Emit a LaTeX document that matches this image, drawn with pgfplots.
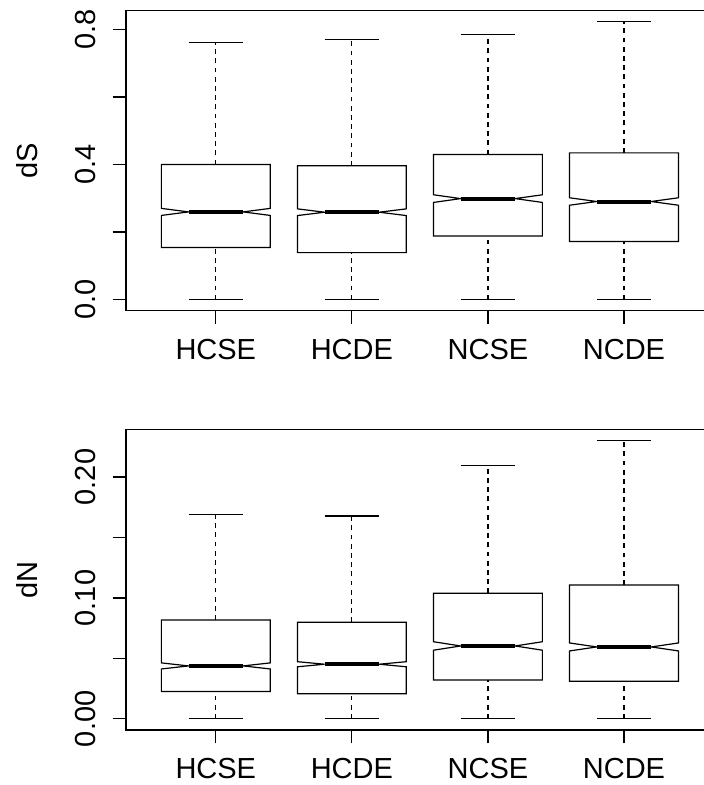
\documentclass[border=0pt]{standalone}
\usepackage{pgfplots}
\pgfplotsset{compat=1.18}
\usepackage{fontspec}
\setmainfont{Liberation Sans}
\tikzset{
 boxline/.style={black, line width=0.6pt, line join=miter},
 whisk/.style={black, line width=0.6pt, dash pattern=on 2.4pt off 2.2pt},
 capl/.style={black, line width=0.6pt},
 medl/.style={black, line width=2pt, line cap=butt},
}
% pos, lower whisker, Q1, median, Q3, upper whisker, notch half-height
\newcommand\nbox[7]{%
 \pgfmathsetmacro\xL{#1-0.4}\pgfmathsetmacro\xR{#1+0.4}%
 \pgfmathsetmacro\xl{#1-0.2}\pgfmathsetmacro\xr{#1+0.2}%
 \pgfmathsetmacro\nU{#4+#7}\pgfmathsetmacro\nD{#4-#7}%
 \edef\tmp{%
  \noexpand\addplot[whisk] coordinates {(#1,#5) (#1,#6)};
  \noexpand\addplot[whisk] coordinates {(#1,#2) (#1,#3)};
  \noexpand\addplot[capl] coordinates {(\xl,#6) (\xr,#6)};
  \noexpand\addplot[capl] coordinates {(\xl,#2) (\xr,#2)};
  \noexpand\addplot[boxline] coordinates {(\xL,#5) (\xR,#5) (\xR,\nU) (\xr,#4) (\xR,\nD) (\xR,#3) (\xL,#3) (\xL,\nD) (\xl,#4) (\xL,\nU) (\xL,#5) (\xR,#5)};
  \noexpand\addplot[medl] coordinates {(\xl,#4) (\xr,#4)};
 }\tmp}
\pgfplotsset{rbox/.style={
 scale only axis, width=293.9pt, height=150pt,
 xmin=0.34, xmax=4.66, xtick={1,2,3,4}, xticklabels={HCSE,HCDE,NCSE,NCDE},
 xtick pos=left, ytick pos=left,
 tick align=outside, major tick length=6.65pt,
 axis line style={line width=0.6pt, black}, tick style={line width=0.6pt, black},
 every tick label/.append style={font=\fontsize{14.5}{17}\selectfont},
 xticklabel style={anchor=base, inner sep=0pt, yshift=-17.8pt},
 yticklabel style={rotate=90, anchor=south, inner sep=0pt, yshift=8.5pt},
 label style={font=\fontsize{14.5}{17}\selectfont, inner sep=0pt},
 ylabel style={at={(axis description cs:-0.1489,0.5)}, anchor=south, rotate=0},
}}
\begin{document}
\begin{tikzpicture}
\path[use as bounding box] (0,0) rectangle (352pt,392.5pt);
\begin{axis}[rbox, at={(63pt,237.15pt)}, anchor=south west,
 ymin=-0.0329, ymax=0.8554, ytick={0,0.2,0.4,0.6,0.8}, yticklabels={0.0,{},0.4,{},0.8},
 ylabel={dS}]
\nbox{1}{0}{0.154}{0.2596}{0.400}{0.762}{0.0104}
\nbox{2}{0}{0.139}{0.2587}{0.396}{0.771}{0.0099}
\nbox{3}{0}{0.1885}{0.299}{0.4296}{0.786}{0.0113}
\nbox{4}{0}{0.172}{0.2904}{0.4344}{0.8225}{0.011}
\end{axis}
\begin{axis}[rbox, at={(63pt,27.5pt)}, anchor=south west, height=150.15pt,
 ymin=-0.0092, ymax=0.2392, ytick={0,0.05,0.10,0.15,0.20}, yticklabels={0.00,{},0.10,{},0.20},
 ylabel={dN}]
\nbox{1}{0}{0.0226}{0.0438}{0.0818}{0.1692}{0.0025}
\nbox{2}{0}{0.0207}{0.0452}{0.0799}{0.1678}{0.0021}
\nbox{3}{0}{0.0322}{0.0603}{0.1039}{0.2093}{0.0035}
\nbox{4}{0}{0.0312}{0.0595}{0.1107}{0.2300}{0.0033}
\end{axis}
\end{tikzpicture}
\end{document}
